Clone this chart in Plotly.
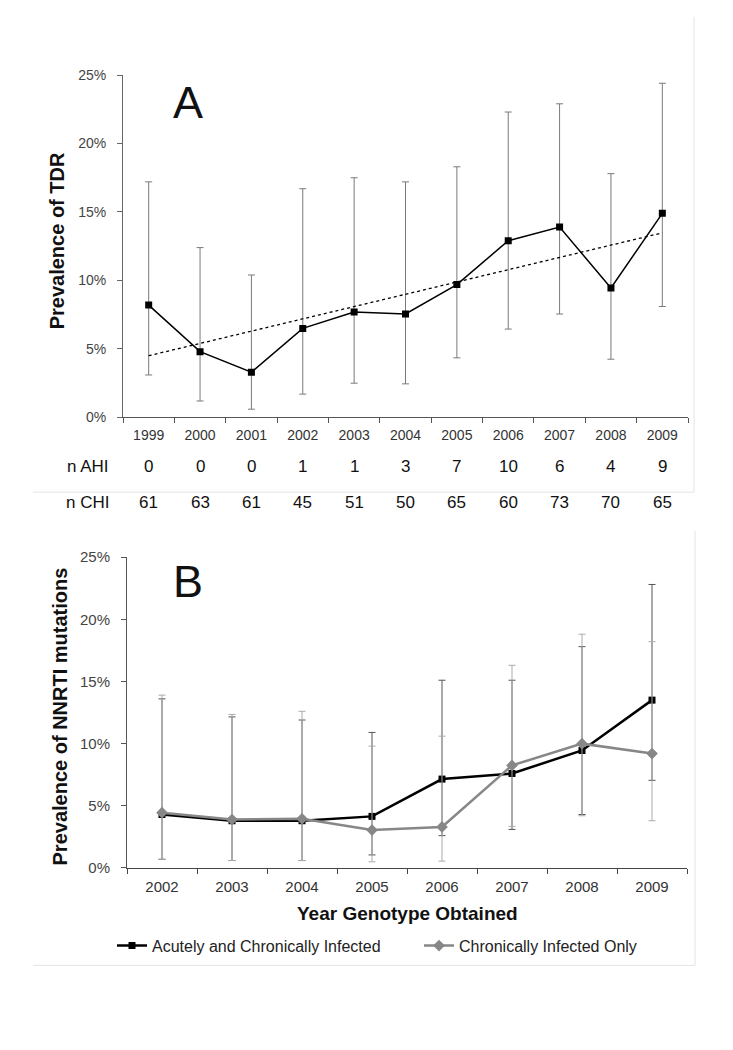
import numpy as np
import plotly.graph_objects as go

FONT = "Arial, Liberation Sans, sans-serif"

# ---------------- Panel A data ----------------
years_a = ["1999", "2000", "2001", "2002", "2003", "2004", "2005", "2006", "2007", "2008", "2009"]
tdr_prev = [8.2, 4.8, 3.3, 6.5, 7.7, 7.55, 9.7, 12.9, 13.9, 9.45, 14.9]
tdr_upper = [17.2, 12.4, 10.4, 16.7, 17.5, 17.2, 18.3, 22.3, 22.9, 17.8, 24.4]
tdr_lower = [3.1, 1.2, 0.6, 1.7, 2.5, 2.45, 4.35, 6.45, 7.55, 4.25, 8.1]
n_ahi = [0, 0, 0, 1, 1, 3, 7, 10, 6, 4, 9]
n_chi = [61, 63, 61, 45, 51, 50, 65, 60, 73, 70, 65]

# ---------------- Panel B data ----------------
years_b = ["2002", "2003", "2004", "2005", "2006", "2007", "2008", "2009"]
acute_chronic = [4.3, 3.8, 3.8, 4.15, 7.15, 7.6, 9.45, 13.5]
acute_chronic_upper = [13.6, 12.15, 11.9, 10.9, 15.1, 15.1, 17.8, 22.8]
acute_chronic_lower = [0.7, 0.6, 0.6, 1.05, 2.6, 3.1, 4.3, 7.05]
chronic_only = [4.45, 3.9, 3.95, 3.05, 3.3, 8.25, 10.0, 9.2]
chronic_only_upper = [13.9, 12.35, 12.6, 9.8, 10.6, 16.3, 18.8, 18.2]
chronic_only_lower = [0.7, 0.6, 0.6, 0.5, 0.55, 3.35, 4.2, 3.8]

W, H = 733, 1050
OFF = 8  # page body margin


def px_x(p):
    return (p - OFF) / W


def px_y(p):
    return (H - (p - OFF)) / H


def pct(a):
    return np.array(a, dtype=float) / 100.0


fig = go.Figure()

# Panel A: TDR prevalence with 95% CI
a_val = pct(tdr_prev)
fig.add_trace(go.Scatter(
    x=years_a, y=a_val, mode="lines+markers",
    line=dict(color="#000000", width=1.5),
    marker=dict(symbol="square", size=7, color="#000000"),
    error_y=dict(type="data", symmetric=False,
                 array=pct(tdr_upper) - a_val, arrayminus=a_val - pct(tdr_lower),
                 color="#7a7a7a", thickness=1, width=3.5),
    xaxis="x", yaxis="y", showlegend=False, name="TDR",
))

# Linear trendline (least squares over the yearly values)
idx = np.arange(len(years_a))
slope, intercept = np.polyfit(idx, a_val, 1)
fig.add_trace(go.Scatter(
    x=[years_a[0], years_a[-1]], y=[intercept, intercept + slope * idx[-1]],
    mode="lines", line=dict(color="#000000", width=1.3, dash="dot"),
    xaxis="x", yaxis="y", showlegend=False, hoverinfo="skip",
))

# Panel B
b1 = pct(acute_chronic)
b2 = pct(chronic_only)
fig.add_trace(go.Scatter(
    x=years_b, y=b1, mode="lines+markers", name="Acutely and Chronically Infected",
    line=dict(color="#000000", width=2.5),
    marker=dict(symbol="square", size=7, color="#000000"),
    error_y=dict(type="data", symmetric=False,
                 array=pct(acute_chronic_upper) - b1, arrayminus=b1 - pct(acute_chronic_lower),
                 color="#555555", thickness=1, width=3.5),
    xaxis="x2", yaxis="y2",
))
fig.add_trace(go.Scatter(
    x=years_b, y=b2, mode="lines+markers", name="Chronically Infected Only",
    line=dict(color="#878787", width=2.5),
    marker=dict(symbol="diamond", size=9, color="#878787"),
    error_y=dict(type="data", symmetric=False,
                 array=pct(chronic_only_upper) - b2, arrayminus=b2 - pct(chronic_only_lower),
                 color="#ababab", thickness=1, width=3.5),
    xaxis="x2", yaxis="y2",
))

axis_common = dict(showgrid=False, zeroline=False, showline=True, ticks="outside",
                   ticklen=5, tickwidth=1)

fig.update_layout(
    width=W, height=H,
    margin=dict(l=0, r=0, t=0, b=0),
    paper_bgcolor="white", plot_bgcolor="white",
    font=dict(family=FONT, color="#222222"),
    xaxis=dict(domain=[px_x(123), px_x(688)], anchor="y", type="category",
               categoryorder="array", categoryarray=years_a, range=[-0.5, len(years_a) - 0.5],
               tickson="boundaries", linecolor="#555555", tickcolor="#555555",
               tickfont=dict(size=14, color="#333333"), ticklabelstandoff=5, **axis_common),
    yaxis=dict(domain=[px_y(415), px_y(67)], anchor="x", range=[0, 0.25], dtick=0.05,
               tickformat=".0%", linecolor="#666666", tickcolor="#666666",
               tickfont=dict(size=14, color="#444444"), ticklabelstandoff=8, **axis_common),
    xaxis2=dict(domain=[px_x(127), px_x(687)], anchor="y2", type="category",
                categoryorder="array", categoryarray=years_b, range=[-0.5, len(years_b) - 0.5],
                tickson="boundaries", linecolor="#444444", tickcolor="#444444",
                tickfont=dict(size=15, color="#333333"), ticklabelstandoff=5, **axis_common),
    yaxis2=dict(domain=[px_y(873), px_y(557)], anchor="x2", range=[0, 0.25], dtick=0.05,
                tickformat=".0%", linecolor="#555555", tickcolor="#555555",
                tickfont=dict(size=15, color="#444444"), ticklabelstandoff=8, **axis_common),
    legend=dict(orientation="h", x=px_x(112), y=px_y(952), xanchor="left", yanchor="middle",
                font=dict(size=16, color="#222222"), entrywidth=262, entrywidthmode="pixels",
                itemwidth=30, bgcolor="rgba(0,0,0,0)", traceorder="normal"),
)

ann = []
# Panel letters
ann.append(dict(text="A", x=px_x(188), y=px_y(95), xref="paper", yref="paper",
                showarrow=False, font=dict(size=45, color="#111111"), xanchor="center", yanchor="middle"))
ann.append(dict(text="B", x=px_x(188), y=px_y(582), xref="paper", yref="paper",
                showarrow=False, font=dict(size=45, color="#111111"), xanchor="center", yanchor="middle"))
# Axis titles
ann.append(dict(text="<b>Prevalence of TDR</b>", x=px_x(57), y=px_y(236), xref="paper", yref="paper",
                textangle=-90, showarrow=False, font=dict(size=20, color="#111111"),
                xanchor="center", yanchor="middle"))
ann.append(dict(text="<b>Prevalence of NNRTI mutations</b>", x=px_x(60), y=px_y(719), xref="paper",
                yref="paper", textangle=-90, showarrow=False, font=dict(size=20, color="#111111"),
                xanchor="center", yanchor="middle"))
ann.append(dict(text="<b>Year Genotype Obtained</b>", x=px_x(407), y=px_y(919), xref="paper",
                yref="paper", showarrow=False, font=dict(size=19, color="#111111"),
                xanchor="center", yanchor="middle"))
# Sample-size rows
ann.append(dict(text="n AHI", x=px_x(111), y=px_y(465), xref="paper", yref="paper",
                showarrow=False, font=dict(size=17, color="#111111"), xanchor="right", yanchor="middle"))
ann.append(dict(text="n CHI", x=px_x(111), y=px_y(501), xref="paper", yref="paper",
                showarrow=False, font=dict(size=17, color="#111111"), xanchor="right", yanchor="middle"))
for i, (a, c) in enumerate(zip(n_ahi, n_chi)):
    ann.append(dict(text=str(a), x=i, y=px_y(465), xref="x", yref="paper", showarrow=False,
                    font=dict(size=17, color="#111111"), xanchor="center", yanchor="middle"))
    ann.append(dict(text=str(c), x=i, y=px_y(501), xref="x", yref="paper", showarrow=False,
                    font=dict(size=17, color="#111111"), xanchor="center", yanchor="middle"))
fig.update_layout(annotations=ann)

# Faint chart-area borders
faint = dict(color="#e4e4e4", width=1)
fig.update_layout(shapes=[
    dict(type="line", xref="paper", yref="paper", x0=px_x(33), x1=px_x(694), y0=px_y(491), y1=px_y(491), line=faint),
    dict(type="line", xref="paper", yref="paper", x0=px_x(694), x1=px_x(694), y0=px_y(8), y1=px_y(491), line=faint),
    dict(type="line", xref="paper", yref="paper", x0=px_x(33), x1=px_x(695), y0=px_y(972), y1=px_y(972), line=faint),
    dict(type="line", xref="paper", yref="paper", x0=px_x(695), x1=px_x(695), y0=px_y(530), y1=px_y(972), line=faint),
])

fig.write_html("out.html")
